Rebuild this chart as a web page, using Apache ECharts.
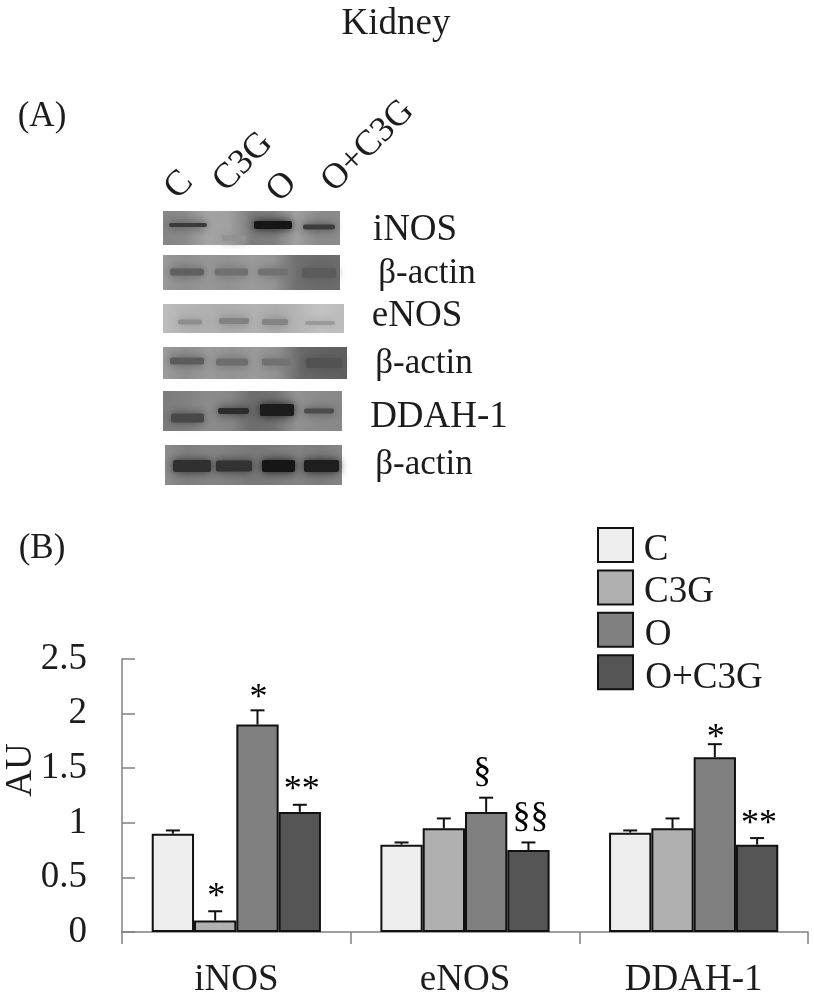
<!DOCTYPE html>
<html>
<head>
<meta charset="utf-8">
<title>Kidney</title>
<script src="https://cdn.jsdelivr.net/npm/echarts@6/dist/echarts.min.js"></script>
<style>
    html, body {margin: 0; padding: 0; background: #fff;}
    #main {width: 814px; height: 1000px;}
</style>
</head>
<body>
<div id="main"></div>
<script>
// chart data
var categories = ['iNOS', 'eNOS', 'DDAH-1'];
var seriesNames = ['C', 'C3G', 'O', 'O+C3G'];
var valuesC = [0.9, 0.8, 0.91];
var valuesC3G = [0.105, 0.95, 0.95];
var valuesO = [1.9, 1.1, 1.6];
var valuesOC3G = [1.1, 0.75, 0.8];
// top of each error bar
var errTopC = [0.93, 0.82, 0.93];
var errTopC3G = [0.19, 1.04, 1.04];
var errTopO = [2.03, 1.23, 1.72];
var errTopOC3G = [1.165, 0.82, 0.86];
// significance marks
var marksC = ['', '', ''];
var marksC3G = ['*', '', ''];
var marksO = ['*', '§', '*'];
var marksOC3G = ['**', '§§', '**'];

var allValues = [valuesC, valuesC3G, valuesO, valuesOC3G];
var allErrTops = [errTopC, errTopC3G, errTopO, errTopOC3G];
var allMarks = [marksC, marksC3G, marksO, marksOC3G];
var barColors = ['#eeeeee', '#b0b0b0', '#808080', '#555555'];

var SERIF = '"Liberation Serif", "Times New Roman", serif';
var TEXT_COLOR = '#1c1c1c';
var CATEGORY_GAP = 0.26;

// western blot panels, picture only (not chart data)
// tones: horizontal background stops, bands: [x, y, w, h, colour]
var blotPanels = [
    {x: 163, y: 211, w: 177, h: 34, tones: ['#858585', '#8a8a8a', '#a4a4a4', '#a0a0a0', '#7c7c7c', '#7e7e7e', '#a0a0a0', '#8a8a8a', '#8c8c8c'],
        bands: [[169, 225, 38, 4, '#3a3a3a'], [254, 225, 38, 8, '#161616'], [303, 227, 32, 5, '#3c3c3c'], [222, 238, 24, 6, '#929292']]},
    {x: 163, y: 255, w: 177, h: 35, tones: ['#9a9a9a', '#8e8e8e', '#979797', '#929292', '#9a9a9a', '#949494', '#707070', '#6a6a6a', '#6c6c6c'],
        bands: [[170, 272, 34, 7, '#606060'], [215, 272, 33, 7, '#707070'], [258, 272, 30, 7, '#727272'], [302, 273, 34, 10, '#5c5c5c']]},
    {x: 163, y: 304, w: 181, h: 29, tones: ['#bcbcbc', '#b4b4b4', '#b0b0b0', '#adadad', '#b2b2b2', '#adadad', '#b6b6b6', '#c4c4c4', '#bcbcbc'],
        bands: [[178, 322, 24, 5, '#8e8e8e'], [219, 321, 30, 6, '#828282'], [262, 322, 26, 6, '#848484'], [305, 323, 30, 4, '#9a9a9a']]},
    {x: 163, y: 347, w: 184, h: 32, tones: ['#9c9c9c', '#8e8e8e', '#9a9a9a', '#929292', '#9a9a9a', '#909090', '#686868', '#626262', '#5e5e5e'],
        bands: [[170, 361, 34, 7, '#5c5c5c'], [216, 362, 32, 7, '#6e6e6e'], [262, 362, 28, 7, '#727272'], [306, 363, 36, 10, '#525252']]},
    {x: 163, y: 391, w: 179, h: 40, tones: ['#7c7c7c', '#808080', '#8c8c8c', '#868686', '#6c6c6c', '#727272', '#929292', '#8a8a8a', '#888888'],
        bands: [[171, 418, 33, 9, '#484848'], [218, 411, 31, 6, '#2c2c2c'], [260, 410, 34, 12, '#1c1c1c'], [304, 411, 30, 5, '#4c4c4c']]},
    {x: 165, y: 445, w: 177, h: 40, tones: ['#8c8c8c', '#7e7e7e', '#848484', '#808080', '#787878', '#7c7c7c', '#828282', '#7c7c7c', '#868686'],
        bands: [[173, 466, 38, 12, '#303030'], [216, 466, 36, 11, '#323232'], [262, 466, 33, 12, '#161616'], [304, 466, 35, 12, '#1e1e1e']]}
];

// free text around the chart: [text, x, y, size, rotation degrees]
var freeTexts = [
    ['Kidney', 396, 24, 37, 0],
    ['(A)', 42, 117, 35, 0],
    ['(B)', 42, 549, 35, 0],
    ['iNOS', 415, 230, 37, 0],
    ['β-actin', 427, 274, 35, 0],
    ['eNOS', 417, 316, 37, 0],
    ['β-actin', 424, 364, 35, 0],
    ['DDAH-1', 439, 417, 37, 0],
    ['β-actin', 424, 465, 35, 0],
    ['C', 179, 185, 36, 45],
    ['C3G', 243, 162, 36, 45],
    ['O', 282, 187, 36, 45],
    ['O+C3G', 368, 146, 36, 45],
    ['AU', 21, 770, 37, 90],
    // legend names sit slightly below the middle of their swatches
    [seriesNames[0], 656, 550, 37, 0],
    [seriesNames[1], 679, 592, 37, 0],
    [seriesNames[2], 658, 635, 37, 0],
    [seriesNames[3], 704, 678, 37, 0]
];

function buildBlots() {
    var items = [];
    blotPanels.forEach(function (p) {
        var stops = p.tones.map(function (c, i) {
            return {offset: i / (p.tones.length - 1), color: c};
        });
        items.push({
            type: 'rect', silent: true,
            shape: {x: p.x, y: p.y, width: p.w, height: p.h},
            style: {fill: new echarts.graphic.LinearGradient(0, 0, 1, 0, stops)}
        });
        p.bands.forEach(function (b) {
            items.push({
                type: 'rect', silent: true,
                shape: {x: b[0], y: b[1] - b[3] / 2, width: b[2], height: b[3], r: 2},
                style: {fill: b[4], shadowBlur: 10, shadowColor: b[4]}
            });
        });
    });
    return items;
}

function buildTexts() {
    return freeTexts.map(function (t) {
        return {
            type: 'text', silent: true, x: t[1], y: t[2],
            rotation: t[4] * Math.PI / 180,
            style: {
                text: t[0], fill: TEXT_COLOR, align: 'center', verticalAlign: 'middle',
                font: t[3] + 'px ' + SERIF
            }
        };
    });
}

// how far a mark sits above its error bar
function markLift(mark, idx, cat) {
    if (mark.charAt(0) === '§') return 8;
    if (idx === 2 && cat === 2) return -12;
    if (idx === 2) return -6;
    return -4;
}

// error bar and mark for one group, drawn from the axis scales
function errorBarSeries(idx) {
    var rows = categories.map(function (c, i) {
        return [i, allErrTops[idx][i], allValues[idx][i], allMarks[idx][i]];
    });
    return {
        type: 'custom',
        z: 5,
        silent: true,
        encode: {x: 0, y: 1},
        data: rows,
        renderItem: function (params, api) {
            var top = api.coord([api.value(0), api.value(1)]);
            var base = api.coord([api.value(0), api.value(2)]);
            var band = api.size([1, 0])[0];
            var barW = band * (1 - CATEGORY_GAP) / 4;
            var x = top[0] + (idx - 1.5) * barW;
            var lineStyle = {stroke: '#111', lineWidth: 2};
            var children = [
                {type: 'line', shape: {x1: x, y1: top[1], x2: x, y2: base[1]}, style: lineStyle},
                {type: 'line', shape: {x1: x - 7, y1: top[1], x2: x + 7, y2: top[1]}, style: lineStyle}
            ];
            var mark = rows[params.dataIndex][3];
            if (mark) {
                var single = mark === '§';
                children.push({
                    type: 'text',
                    x: x + (single ? -4 : (mark.length > 1 ? 2 : 1)),
                    y: top[1] - markLift(mark, idx, params.dataIndex),
                    style: {
                        text: mark, fill: '#000', align: 'center', verticalAlign: 'bottom',
                        font: '36px ' + SERIF
                    }
                });
            }
            return {type: 'group', children: children};
        }
    };
}

var barSeries = seriesNames.map(function (name, i) {
    return {
        name: name,
        type: 'bar',
        data: allValues[i],
        barGap: 0,
        barCategoryGap: (CATEGORY_GAP * 100) + '%',
        itemStyle: {color: barColors[i], borderColor: '#111', borderWidth: 2},
        animation: false
    };
});

var myChart = echarts.init(document.getElementById('main'));
var option = {
    animation: false,
    backgroundColor: '#fff',
    textStyle: {fontFamily: SERIF},
    grid: {left: 122, top: 659, width: 686, height: 273},
    legend: {
        orient: 'vertical',
        left: 597,
        top: 527,
        padding: 0,
        icon: 'rect',
        itemWidth: 35,
        itemHeight: 34,
        itemGap: 6.4,
        data: seriesNames,
        selectedMode: false,
        // names are in freeTexts, the legend only draws the swatches
        formatter: function () {
            return '';
        }
    },
    xAxis: {
        type: 'category',
        data: categories,
        axisLine: {lineStyle: {color: '#808080', width: 1.5}},
        axisTick: {show: true, alignWithLabel: false, length: 12, lineStyle: {color: '#808080', width: 1.5}},
        axisLabel: {fontFamily: SERIF, fontSize: 37, color: TEXT_COLOR, margin: 30}
    },
    yAxis: {
        type: 'value',
        min: 0,
        max: 2.5,
        interval: 0.5,
        splitLine: {show: false},
        axisLine: {show: true, lineStyle: {color: '#808080', width: 1.5}},
        axisTick: {show: true, inside: true, length: 13, lineStyle: {color: '#808080', width: 1.5}},
        axisLabel: {fontFamily: SERIF, fontSize: 37, color: TEXT_COLOR, margin: 35, padding: [5, 0, 0, 0]}
    },
    graphic: {elements: buildBlots().concat(buildTexts())},
    series: barSeries.concat([0, 1, 2, 3].map(errorBarSeries))
};
myChart.setOption(option);
</script>
</body>
</html>
